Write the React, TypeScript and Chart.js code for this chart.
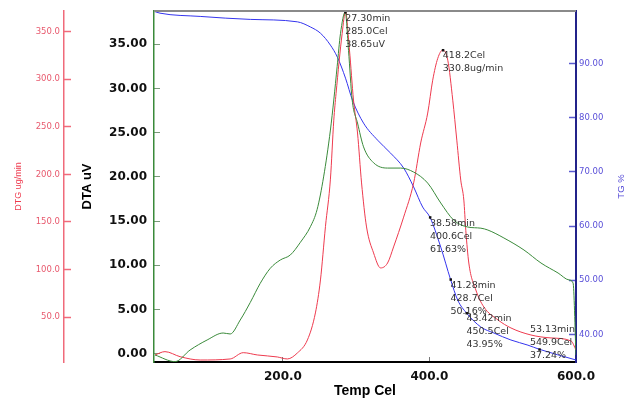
import React, { useEffect, useRef } from 'react';
import { Chart, registerables } from 'chart.js';

Chart.register(...registerables);

// ---- data (temperature in Cel) ----
const tgTemps = [24, 32.2, 87, 155.4, 219.7, 237.5, 251.2, 264.8, 274.4, 285.4, 295, 310, 329.2, 347, 364.8, 378.4, 390.7, 400.6, 415.4, 428.7, 438.6, 450.5, 470.1, 488, 511.2, 534.4, 549.9, 600];
const tgValues = [99.65, 99.3, 98.7, 98.15, 97.7, 96.75, 95.6, 93.4, 91.15, 87.3, 83.2, 79.0, 75.85, 73.45, 70.7, 67.2, 63.5, 61.63, 56.1, 50.16, 46.3, 43.95, 41.35, 40.24, 38.95, 38.0, 37.24, 35.26];

const dtaTemps = [25.4, 52.7, 73.3, 96.5, 118.4, 128, 141.7, 155.4, 169, 182.7, 196.4, 210.1, 223.8, 237.5, 246.6, 255.5, 264.8, 269.4, 274, 278.5, 285.0, 289.5, 294.5, 301.8, 310, 323.7, 342.8, 360.6, 378.4, 397.6, 415.4, 433.2, 452.3, 470.1, 479.7, 501.6, 529, 552.2, 575.5, 590.5, 596, 600];
const dtaValues = [-0.15, -0.9, 0.42, 1.55, 2.34, 2.23, 3.81, 5.8, 7.96, 9.66, 10.6, 11.17, 12.6, 14.37, 16.3, 20.0, 25.3, 28.7, 32.5, 36.2, 38.65, 34.3, 28.7, 26.1, 23.4, 21.6, 21.0, 21.0, 20.55, 19.3, 17.05, 15.1, 14.33, 14.2, 13.99, 13.09, 11.73, 10.26, 9.13, 8.34, 8.0, -0.15];

const dtgTemps = [25.4, 39, 59.6, 87, 128, 145.8, 165, 192.3, 206, 219.7, 233.4, 244.3, 251.2, 258, 264.8, 269.4, 272.5, 280.8, 285.4, 290.8, 296.3, 301.8, 307.3, 314.1, 323.7, 333.3, 342.8, 351, 364.7, 378.4, 388, 397.6, 404.4, 411.3, 418.2, 425, 431.8, 437.3, 442.7, 446.9, 449.6, 453.7, 463.3, 474.2, 493.4, 511.2, 538.5, 565.9, 593.3, 600];
const dtgValues = [10.1, 13.6, 8.3, 4.8, 5.9, 12.5, 10.1, 8.0, 5.9, 12.2, 25.9, 54.3, 89, 145, 195, 257, 285, 348, 371, 330.8, 278.2, 243.5, 191, 144.7, 117.4, 101.6, 106.8, 123.7, 155, 191, 233, 264.5, 299, 322, 330.8, 320, 278, 236, 194, 173, 141, 106.8, 78.4, 60.6, 47, 38.5, 31.1, 28, 24.8, 15.4];

const xTicks = [200, 400, 600];
const dtaTicks = [0, 5, 10, 15, 20, 25, 30, 35];
const dtgTicks = [50, 100, 150, 200, 250, 300, 350];
const tgTicks = [40, 50, 60, 70, 80, 90];

const noteTemps = [285.0, 418.2, 400.6, 428.7, 450.5, 549.9];
const noteValues = [38.65, 330.8, 61.63, 50.16, 43.95, 37.24];
const noteAxes = ['yDTA', 'yDTG', 'yTG', 'yTG', 'yTG', 'yTG'];
const noteTexts = [
  ['27.30min', '285.0Cel', '38.65uV'],
  ['418.2Cel', '330.8ug/min'],
  ['38.58min', '400.6Cel', '61.63%'],
  ['41.28min', '428.7Cel', '50.16%'],
  ['43.42min', '450.5Cel', '43.95%'],
  ['53.13min', '549.9Cel', '37.24%'],
];

const GREEN = '#3a8a3a';
const RED = '#ee3a4e';
const BLUE = '#3434ee';

const noPadY = (a: any, w: number) => {
  a.width = w;
  a.paddingTop = 0;
  a.paddingBottom = 0;
};

const extrasPlugin = {
  id: 'extras',
  afterDatasetsDraw(chart: any) {
    const { ctx, chartArea, scales } = chart;
    ctx.save();
    ctx.font = '9.5px "DejaVu Sans"';
    ctx.textBaseline = 'middle';
    ctx.textAlign = 'left';
    const lh = 13;
    noteTemps.forEach((t, i) => {
      const px = scales.x.getPixelForValue(t);
      const py = scales[noteAxes[i]].getPixelForValue(noteValues[i]);
      ctx.fillStyle = '#111';
      ctx.fillRect(px - 1, py - 1, 2.5, 2.5);
      const lines = noteTexts[i];
      const w = Math.max(...lines.map((s) => ctx.measureText(s).width));
      const x = Math.min(px, chartArea.right - w - 1);
      let y = py + 6;
      const lastY = y + (lines.length - 1) * lh;
      if (lastY + 6 > chartArea.bottom) y = chartArea.bottom - 6 - (lines.length - 1) * lh;
      ctx.fillStyle = '#333';
      lines.forEach((s, k) => ctx.fillText(s, x, y + k * lh));
    });
    ctx.restore();
  },
  afterDraw(chart: any) {
    const { ctx, chartArea, scales } = chart;
    ctx.save();
    ctx.strokeStyle = '#8a8a8a';
    ctx.lineWidth = 2;
    ctx.beginPath();
    ctx.moveTo(chartArea.left, chartArea.top);
    ctx.lineTo(chartArea.right, chartArea.top);
    ctx.stroke();
    // right axis title, reading bottom to top
    const tg = scales.yTG;
    ctx.translate(tg.right - 19, (chartArea.top + chartArea.bottom) / 2);
    ctx.rotate(-Math.PI / 2);
    ctx.font = '9.5px "Liberation Sans"';
    ctx.fillStyle = '#5a50d8';
    ctx.textAlign = 'center';
    ctx.textBaseline = 'middle';
    ctx.fillText('TG %', 0, 0);
    ctx.restore();
  },
};

export default function App() {
  const ref = useRef<HTMLCanvasElement>(null);
  useEffect(() => {
    const canvas = ref.current!;
    const chart = new Chart(canvas, {
      type: 'line',
      data: {
        datasets: [
          {
            label: 'DTA',
            data: dtaTemps.map((t, i) => ({ x: t, y: dtaValues[i] })),
            yAxisID: 'yDTA',
            borderColor: GREEN,
            borderWidth: 1,
            pointRadius: 0,
            cubicInterpolationMode: 'monotone',
          },
          {
            label: 'DTG',
            data: dtgTemps.map((t, i) => ({ x: t, y: dtgValues[i] })),
            yAxisID: 'yDTG',
            borderColor: RED,
            borderWidth: 1,
            pointRadius: 0,
            cubicInterpolationMode: 'monotone',
          },
          {
            label: 'TG',
            data: tgTemps.map((t, i) => ({ x: t, y: tgValues[i] })),
            yAxisID: 'yTG',
            borderColor: BLUE,
            borderWidth: 1,
            pointRadius: 0,
            cubicInterpolationMode: 'monotone',
          },
        ] as any,
      },
      options: {
        animation: false,
        responsive: false,
        maintainAspectRatio: false,
        layout: { padding: { top: 11, left: 0, right: 0, bottom: 0 } },
        plugins: { legend: { display: false }, tooltip: { enabled: false } },
        scales: {
          x: {
            type: 'linear',
            position: 'bottom',
            min: 24,
            max: 600,
            afterBuildTicks: (a: any) => { a.ticks = xTicks.map((v) => ({ value: v })); },
            afterFit: (a: any) => { a.height = 44; a.paddingLeft = 0; a.paddingRight = 0; },
            ticks: {
              callback: (v: any) => Number(v).toFixed(1),
              font: { family: 'DejaVu Sans', size: 12, weight: 'bold' },
              color: '#111',
              padding: 12.5,
              maxRotation: 0,
              autoSkip: false,
            },
            grid: { display: true, drawOnChartArea: false, drawTicks: true, tickLength: -5, tickColor: '#777', tickWidth: 1 },
            border: { color: '#000', width: 2 },
            title: {
              display: true,
              text: 'Temp Cel',
              font: { family: 'Liberation Sans', size: 14, weight: 'bold' },
              color: '#000',
              padding: { top: 0, bottom: 6.5 },
            },
          },
          yDTG: {
            type: 'linear',
            position: 'left',
            weight: 2,
            min: 2.7,
            max: 371.8,
            afterBuildTicks: (a: any) => { a.ticks = dtgTicks.map((v) => ({ value: v })); },
            afterFit: (a: any) => noPadY(a, 64),
            ticks: {
              callback: (v: any) => Number(v).toFixed(1),
              font: { family: 'DejaVu Sans', size: 8.5 },
              color: '#e85a6e',
              padding: 11,
            },
            grid: { display: true, drawOnChartArea: false, drawTicks: true, tickLength: -7, tickColor: '#f06a7a', tickWidth: 1.5 },
            border: { color: '#f06a7a', width: 1.5 },
            title: {
              display: true,
              text: 'DTG ug/min',
              font: { family: 'Liberation Sans', size: 9 },
              color: '#ee3a4e',
              padding: { top: 13.6, bottom: 0 },
            },
          },
          yDTA: {
            type: 'linear',
            position: 'left',
            weight: 1,
            min: -0.94,
            max: 38.77,
            afterBuildTicks: (a: any) => { a.ticks = dtaTicks.map((v) => ({ value: v })); },
            afterFit: (a: any) => noPadY(a, 90),
            ticks: {
              callback: (v: any) => Number(v).toFixed(2),
              font: { family: 'DejaVu Sans', size: 12, weight: 'bold' },
              color: '#111',
              padding: 13,
            },
            grid: { display: true, drawOnChartArea: false, drawTicks: true, tickLength: -6, tickColor: '#7a9a7a', tickWidth: 1 },
            border: { color: GREEN, width: 1.5 },
            title: {
              display: true,
              text: 'DTA uV',
              font: { family: 'Liberation Sans', size: 13, weight: 'bold' },
              color: '#000',
              padding: { top: 15.2, bottom: 0 },
            },
          },
          yTG: {
            type: 'linear',
            position: 'right',
            min: 34.89,
            max: 99.7,
            afterBuildTicks: (a: any) => { a.ticks = tgTicks.map((v) => ({ value: v })); },
            afterFit: (a: any) => noPadY(a, 64),
            ticks: {
              callback: (v: any) => Number(v).toFixed(2),
              font: { family: 'DejaVu Sans', size: 8.5 },
              color: '#5a50d8',
              padding: 10,
            },
            grid: { display: true, drawOnChartArea: false, drawTicks: true, tickLength: -7, tickColor: '#5a5ad0', tickWidth: 1.5 },
            border: { color: '#23238a', width: 2 },
          },
        },
      } as any,
      plugins: [extrasPlugin],
    });
    return () => chart.destroy();
  }, []);
  return (
    <div style={{ position: 'fixed', left: 0, top: 0, width: 640, height: 406, background: '#fff' }}>
      <canvas ref={ref} width={640} height={406} style={{ width: 640, height: 406, display: 'block' }} />
    </div>
  );
}
